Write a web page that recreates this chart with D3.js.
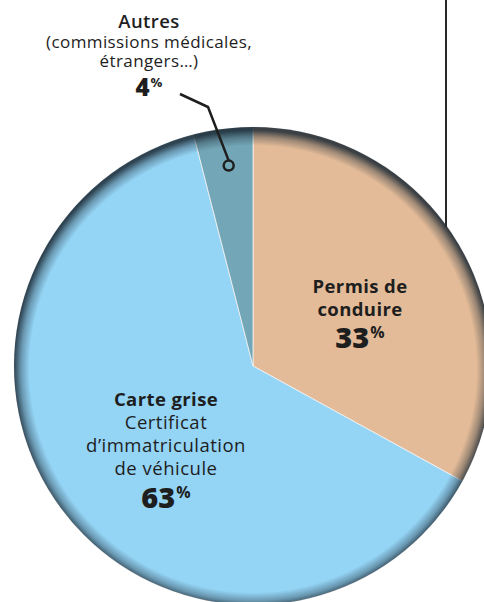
<!DOCTYPE html>
<html>
<head>
<meta charset="utf-8">
<script src="https://cdn.jsdelivr.net/npm/d3@7"></script>
<style>
  html, body { margin: 0; padding: 0; background: #fff; }
  svg { display: block; }
  text { font-family: "Open Sans", sans-serif; fill: #1e1e1e; font-variant-ligatures: none; }
</style>
</head>
<body>
<div id="app"></div>
<script>
const categories = ['Permis de conduire', 'Carte grise', 'Autres'];
const shares = [33, 63, 4];
const colors = ['#e3bb98', '#94d4f5', '#73a6b6'];

const width = 484;
const height = 602;
const cx = 253;
const cy = 366;
const radius = 239;

const svg = d3.select('#app').append('svg')
    .attr('width', width)
    .attr('height', height)
    .attr('viewBox', [0, 0, width, height]);

const defs = svg.append('defs');
const rim = defs.append('radialGradient')
    .attr('id', 'rim')
    .attr('gradientUnits', 'userSpaceOnUse')
    .attr('cx', cx).attr('cy', cy + 3)
    .attr('r', radius);
rim.append('stop').attr('offset', 0.935).attr('stop-color', '#1c2a35').attr('stop-opacity', 0);
rim.append('stop').attr('offset', 0.97).attr('stop-color', '#1c2a35').attr('stop-opacity', 0.35);
rim.append('stop').attr('offset', 1).attr('stop-color', '#1c2a35').attr('stop-opacity', 0.85);

const pie = d3.pie().sort(null).value(d => d);
const arcs = pie(shares);
const arc = d3.arc().innerRadius(0).outerRadius(radius);

const g = svg.append('g').attr('transform', `translate(${cx},${cy})`);

g.selectAll('path.slice')
    .data(arcs)
    .join('path')
    .attr('class', 'slice')
    .attr('fill', (d, i) => colors[i])
    .attr('stroke', '#f4f4f4')
    .attr('stroke-width', 0.8)
    .attr('d', arc);

svg.append('circle')
    .attr('cx', cx).attr('cy', cy)
    .attr('r', radius)
    .attr('fill', 'url(#rim)');

// vertical line coming from the top, ending on the rim
const lineX = 446;
const rimY = cy - Math.sqrt(radius * radius - (lineX - cx) * (lineX - cx));
svg.append('line')
    .attr('x1', lineX).attr('x2', lineX)
    .attr('y1', 0).attr('y2', rimY + 2)
    .attr('stroke', '#2a2a2a')
    .attr('stroke-width', 2);

// leader for Autres
const autres = arcs[2];
const pin = d3.arc().innerRadius(radius - 37).outerRadius(radius - 37).centroid(autres);
const px = cx + pin[0] + 1;
const py = cy + pin[1];
svg.append('path')
    .attr('d', `M180,94 L208,107 L${px},${py - 5}`)
    .attr('fill', 'none')
    .attr('stroke', '#1e1e1e')
    .attr('stroke-width', 2.5);
svg.append('circle')
    .attr('cx', px).attr('cy', py)
    .attr('r', 5)
    .attr('fill', 'none')
    .attr('stroke', '#1e1e1e')
    .attr('stroke-width', 2.5);

const addLabel = (x, y, lines, gap, pct, pctSize, pctY) => {
    const t = svg.append('g').attr('transform', `translate(${x},${y})`);
    lines.forEach((l, i) => {
        t.append('text')
            .attr('y', i * gap)
            .attr('text-anchor', 'middle')
            .attr('font-size', l.size)
            .attr('font-weight', l.weight)
            .attr('letter-spacing', l.ls)
            .text(l.text);
    });
    const p = t.append('text')
        .attr('y', pctY)
        .attr('text-anchor', 'middle')
        .attr('font-weight', 800)
        .attr('font-size', pctSize);
    p.append('tspan').text(pct);
    p.append('tspan')
        .attr('font-size', pctSize * 0.55)
        .attr('font-weight', 700)
        .attr('dx', 1)
        .attr('dy', -pctSize * 0.36)
        .text('%');
};

addLabel(149, 28, [
    { text: 'Autres', size: 18.5, weight: 600, ls: 0.4 },
    { text: '(commissions médicales,', size: 17, weight: 400, ls: 0.4 },
    { text: 'étrangers…)', size: 17, weight: 400, ls: 0.4 },
], 19.7, shares[2], 24, 68);

addLabel(360, 293, [
    { text: 'Permis de', size: 18.5, weight: 700, ls: 0.4 },
    { text: 'conduire', size: 18.5, weight: 700, ls: 0.4 },
], 22.5, shares[0], 29, 55);

addLabel(166, 406, [
    { text: 'Carte grise', size: 18.5, weight: 700, ls: 0.4 },
    { text: 'Certificat', size: 18.5, weight: 400, ls: 0.5 },
    { text: 'd’immatriculation', size: 18.5, weight: 400, ls: 0.5 },
    { text: 'de véhicule', size: 18.5, weight: 400, ls: 0.5 },
], 23, shares[1], 29, 102);
</script>
</body>
</html>
